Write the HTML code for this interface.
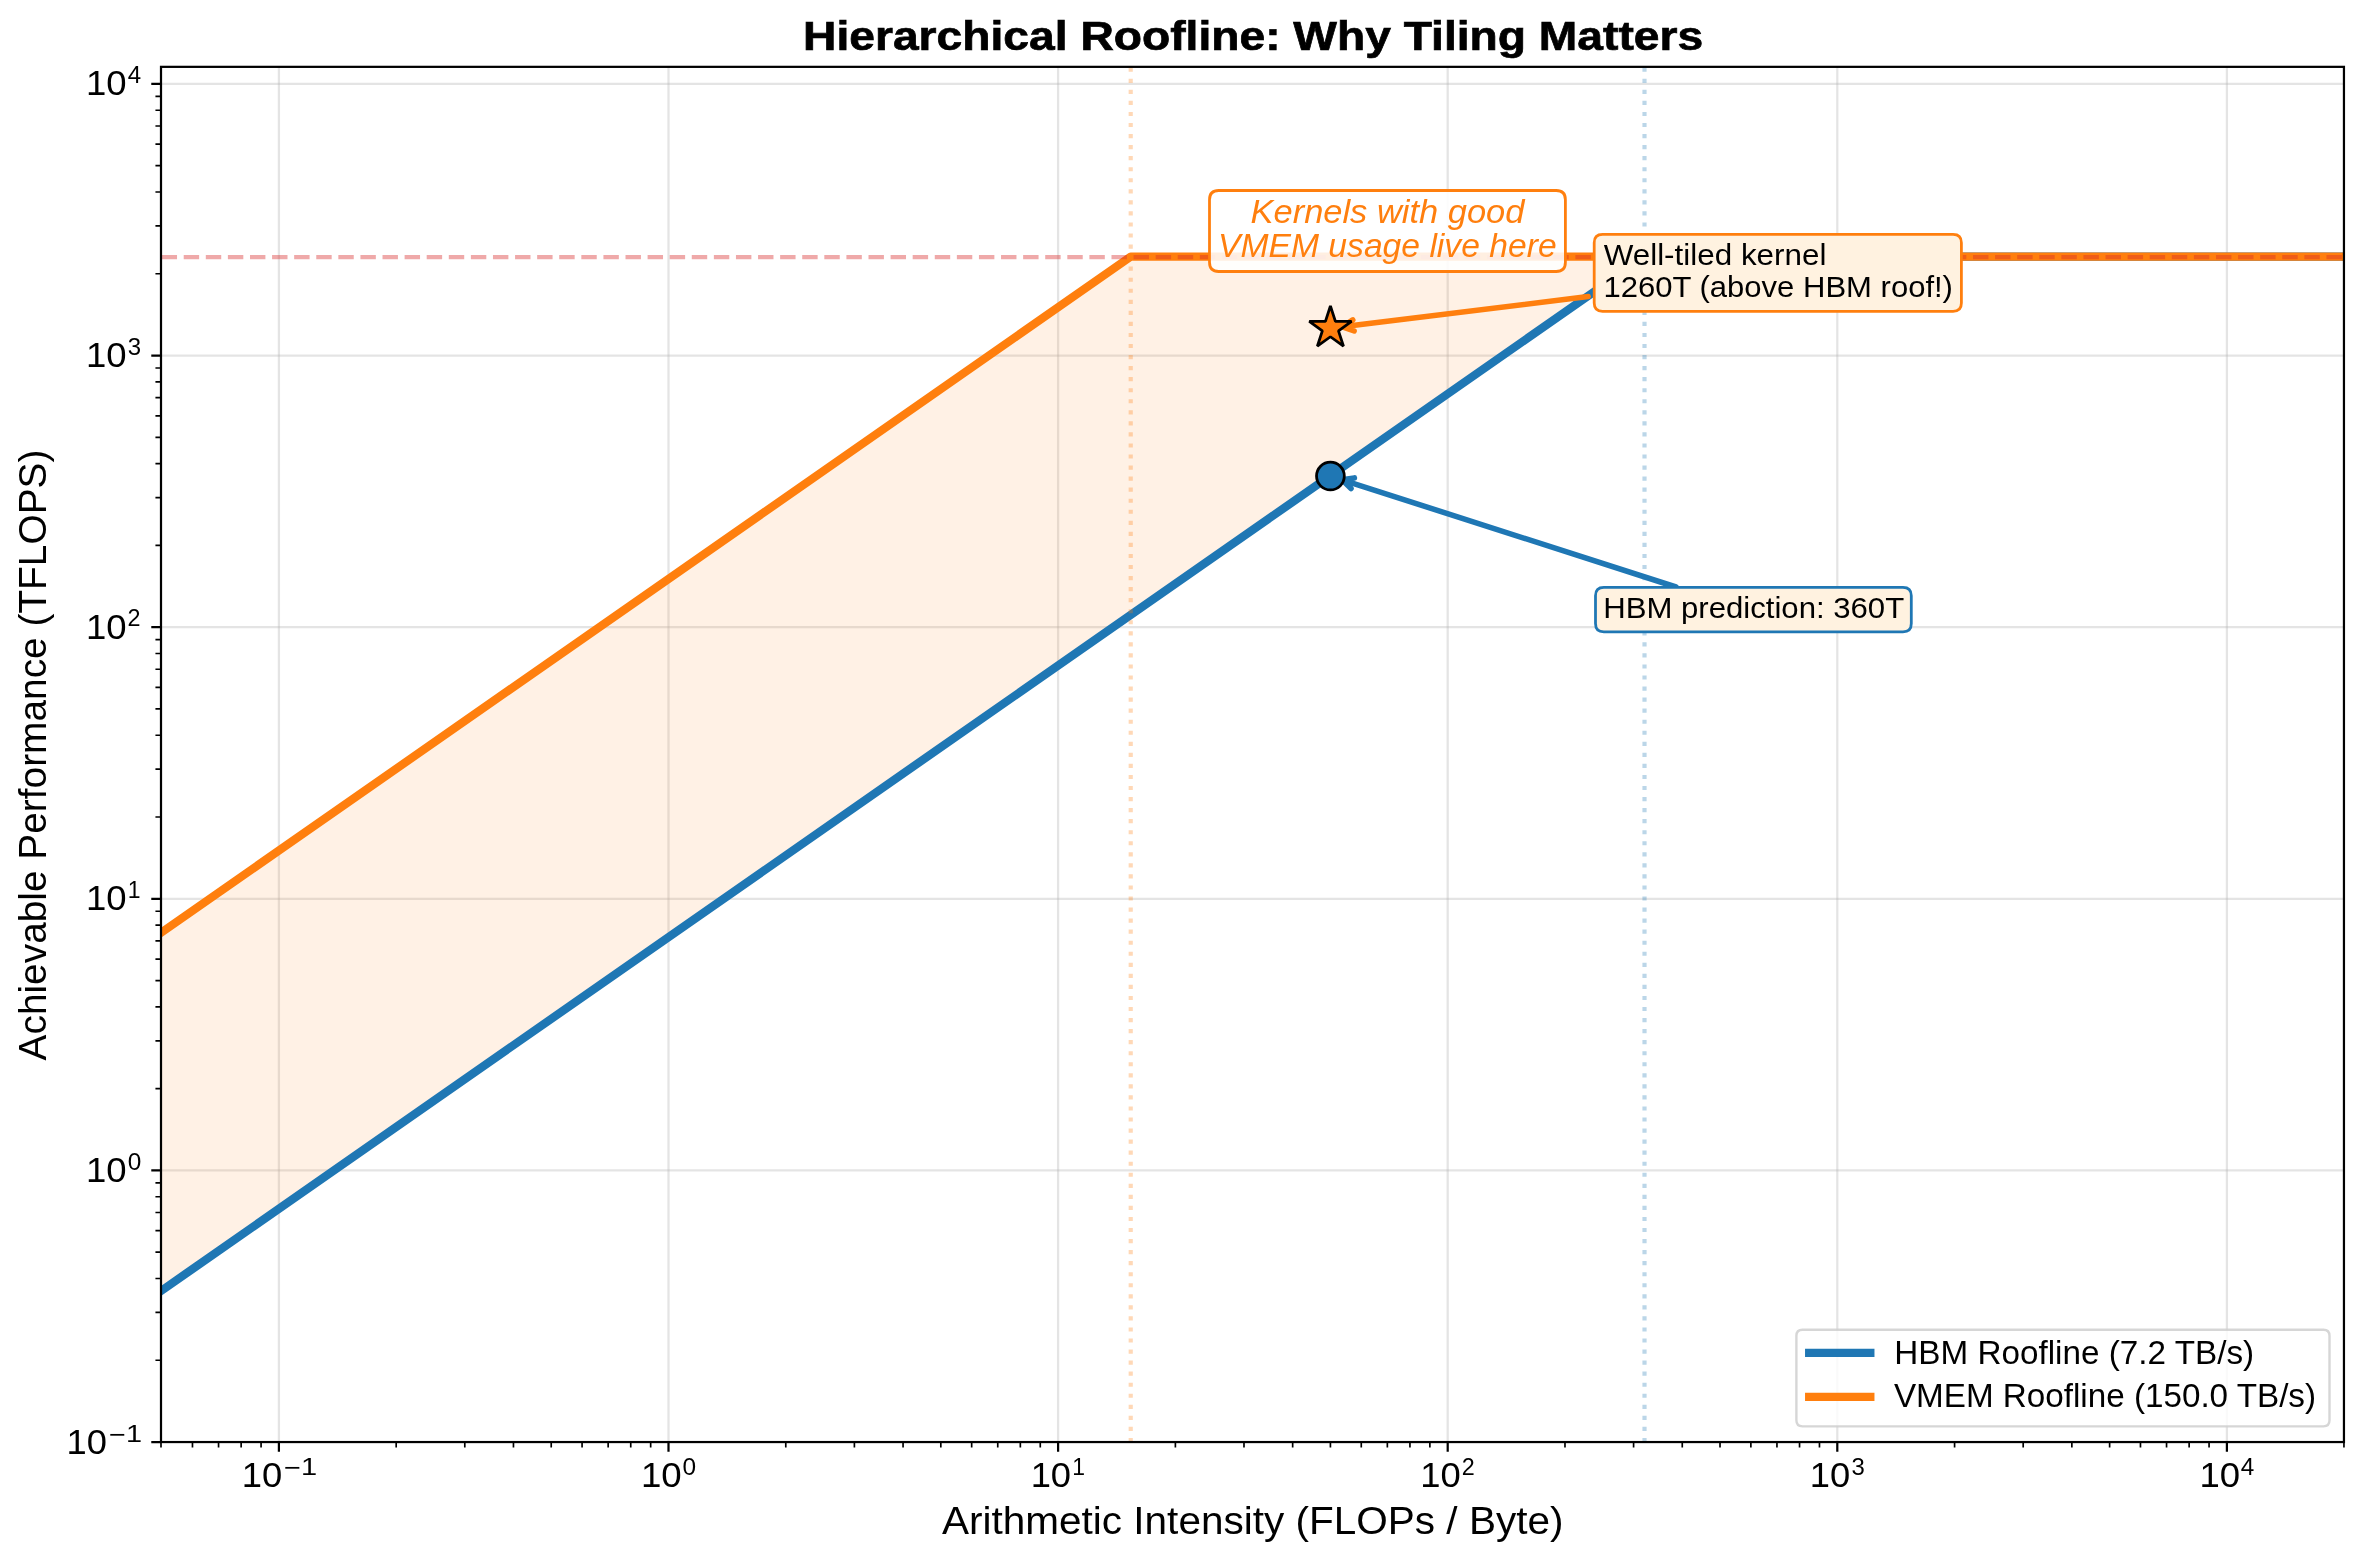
<!DOCTYPE html><html><head><meta charset="utf-8"><style>html,body{margin:0;padding:0;background:#fff;overflow:hidden}svg{display:block;will-change:transform}text{font-family:"Liberation Sans",sans-serif}</style></head><body><svg width="2363" height="1561" viewBox="0 0 2363 1561"><rect width="100%" height="100%" fill="#fff"/>
<defs><clipPath id="ax"><rect x="161.62" y="66.85" width="2182.56" height="1375.20"/></clipPath></defs>
<g clip-path="url(#ax)">
<line x1="278.90" y1="66.85" x2="278.90" y2="1442.05" stroke="#b0b0b0" stroke-opacity="0.34" stroke-width="2.22"/>
<line x1="161.62" y1="1442.05" x2="2344.18" y2="1442.05" stroke="#b0b0b0" stroke-opacity="0.34" stroke-width="2.22"/>
<line x1="668.50" y1="66.85" x2="668.50" y2="1442.05" stroke="#b0b0b0" stroke-opacity="0.34" stroke-width="2.22"/>
<line x1="161.62" y1="1170.42" x2="2344.18" y2="1170.42" stroke="#b0b0b0" stroke-opacity="0.34" stroke-width="2.22"/>
<line x1="1058.10" y1="66.85" x2="1058.10" y2="1442.05" stroke="#b0b0b0" stroke-opacity="0.34" stroke-width="2.22"/>
<line x1="161.62" y1="898.79" x2="2344.18" y2="898.79" stroke="#b0b0b0" stroke-opacity="0.34" stroke-width="2.22"/>
<line x1="1447.70" y1="66.85" x2="1447.70" y2="1442.05" stroke="#b0b0b0" stroke-opacity="0.34" stroke-width="2.22"/>
<line x1="161.62" y1="627.16" x2="2344.18" y2="627.16" stroke="#b0b0b0" stroke-opacity="0.34" stroke-width="2.22"/>
<line x1="1837.30" y1="66.85" x2="1837.30" y2="1442.05" stroke="#b0b0b0" stroke-opacity="0.34" stroke-width="2.22"/>
<line x1="161.62" y1="355.53" x2="2344.18" y2="355.53" stroke="#b0b0b0" stroke-opacity="0.34" stroke-width="2.22"/>
<line x1="2226.90" y1="66.85" x2="2226.90" y2="1442.05" stroke="#b0b0b0" stroke-opacity="0.34" stroke-width="2.22"/>
<line x1="161.62" y1="83.90" x2="2344.18" y2="83.90" stroke="#b0b0b0" stroke-opacity="0.34" stroke-width="2.22"/>
<g transform="translate(0,-0.4)">
<path d="M161.62,932.73 L1130.72,257.07 L1644.51,257.07 L161.62,1290.94 Z" fill="#ff7f0e" fill-opacity="0.11"/>
<polyline points="131.62,1311.86 1644.51,257.07 2374.18,257.07" fill="none" stroke="#1f77b4" stroke-width="8.33" stroke-linejoin="round"/>
<polyline points="131.62,953.64 1130.72,257.07 2374.18,257.07" fill="none" stroke="#ff7f0e" stroke-width="8.33" stroke-linejoin="round"/>
</g>
<line x1="161.62" y1="257.07" x2="2344.18" y2="257.07" stroke="#d62728" stroke-opacity="0.4" stroke-width="4.17" stroke-dasharray="15.42 6.67"/>
<line x1="1130.72" y1="1442.05" x2="1130.72" y2="66.85" stroke="#ff7f0e" stroke-opacity="0.3" stroke-width="4.17" stroke-dasharray="4.17 6.88"/>
<line x1="1644.51" y1="1442.05" x2="1644.51" y2="66.85" stroke="#1f77b4" stroke-opacity="0.3" stroke-width="4.17" stroke-dasharray="4.17 6.88"/>
<path d="M1588.20,296.60 L1342.43,326.79 M1354.12,330.96 L1342.43,326.79 L1352.77,319.92" fill="none" stroke="#ff7f0e" stroke-width="5.56" stroke-linecap="round" stroke-linejoin="round"/>
<path d="M1676.00,587.00 L1342.13,479.81 M1351.00,488.50 L1342.13,479.81 L1354.40,477.91" fill="none" stroke="#1f77b4" stroke-width="5.56" stroke-linecap="round" stroke-linejoin="round"/>
<polygon points="1330.42,306.05 1325.43,321.40 1309.29,321.40 1322.35,330.89 1317.36,346.24 1330.42,336.75 1343.48,346.24 1338.49,330.89 1351.55,321.40 1335.41,321.40" fill="#ff7f0e" stroke="#000" stroke-width="2.78" stroke-linejoin="bevel"/>
<circle cx="1330.42" cy="476.05" r="13.89" fill="#1f77b4" stroke="#000" stroke-width="2.78"/>
</g>
<path d="M1218.67,190.50 L1556.23,190.50 Q1565.40,190.50 1565.40,199.67 L1565.40,262.33 Q1565.40,271.50 1556.23,271.50 L1218.67,271.50 Q1209.50,271.50 1209.50,262.33 L1209.50,199.67 Q1209.50,190.50 1218.67,190.50 Z" fill="#ffffff" fill-opacity="0.88" stroke="#ff7f0e" stroke-width="2.78"/>
<text id="k1" transform="translate(1250.52,222.70) scale(1.06391,1)" font-size="32.40" font-style="italic" fill="#ff7f0e">Kernels with good</text>
<text id="k2" transform="translate(1218.00,256.80) scale(1.03918,1)" font-size="32.40" font-style="italic" fill="#ff7f0e">VMEM usage live here</text>
<path d="M1602.53,234.35 L1953.07,234.35 Q1961.40,234.35 1961.40,242.68 L1961.40,302.97 Q1961.40,311.30 1953.07,311.30 L1602.53,311.30 Q1594.20,311.30 1594.20,302.97 L1594.20,242.68 Q1594.20,234.35 1602.53,234.35 Z" fill="#fff2e0" stroke="#ff7f0e" stroke-width="2.78"/>
<text id="w1" transform="translate(1603.65,264.50) scale(1.06820,1)" font-size="29.40" fill="#000">Well-tiled kernel</text>
<text id="w2" transform="translate(1603.50,296.50) scale(1.05542,1)" font-size="29.40" fill="#000">1260T (above HBM roof!)</text>
<path d="M1603.83,587.30 L1902.97,587.30 Q1911.30,587.30 1911.30,595.63 L1911.30,623.57 Q1911.30,631.90 1902.97,631.90 L1603.83,631.90 Q1595.50,631.90 1595.50,623.57 L1595.50,595.63 Q1595.50,587.30 1603.83,587.30 Z" fill="#fff2e0" stroke="#1f77b4" stroke-width="2.78"/>
<text id="h1" transform="translate(1603.20,617.60) scale(1.05905,1)" font-size="29.40" fill="#000">HBM prediction: 360T</text>
<rect x="161.00" y="66.85" width="2182.95" height="1375.20" fill="none" stroke="#000" stroke-width="2.22" stroke-linejoin="miter"/>
<path d="M278.90,1442.05 v9.72 M161.00,1442.05 h-9.72 M668.50,1442.05 v9.72 M161.00,1170.42 h-9.72 M1058.10,1442.05 v9.72 M161.00,898.79 h-9.72 M1447.70,1442.05 v9.72 M161.00,627.16 h-9.72 M1837.30,1442.05 v9.72 M161.00,355.53 h-9.72 M2226.90,1442.05 v9.72 M161.00,83.90 h-9.72" stroke="#000" stroke-width="2.22"/>
<path d="M161.00,1442.05 v5.56 M192.47,1442.05 v5.56 M218.55,1442.05 v5.56 M241.14,1442.05 v5.56 M261.07,1442.05 v5.56 M396.18,1442.05 v5.56 M161.00,1360.28 h-5.56 M464.79,1442.05 v5.56 M161.00,1312.45 h-5.56 M513.46,1442.05 v5.56 M161.00,1278.51 h-5.56 M551.22,1442.05 v5.56 M161.00,1252.19 h-5.56 M582.07,1442.05 v5.56 M161.00,1230.68 h-5.56 M608.15,1442.05 v5.56 M161.00,1212.50 h-5.56 M630.74,1442.05 v5.56 M161.00,1196.74 h-5.56 M650.67,1442.05 v5.56 M161.00,1182.85 h-5.56 M785.78,1442.05 v5.56 M161.00,1088.65 h-5.56 M854.39,1442.05 v5.56 M161.00,1040.82 h-5.56 M903.06,1442.05 v5.56 M161.00,1006.88 h-5.56 M940.82,1442.05 v5.56 M161.00,980.56 h-5.56 M971.67,1442.05 v5.56 M161.00,959.05 h-5.56 M997.75,1442.05 v5.56 M161.00,940.87 h-5.56 M1020.34,1442.05 v5.56 M161.00,925.11 h-5.56 M1040.27,1442.05 v5.56 M161.00,911.22 h-5.56 M1175.38,1442.05 v5.56 M161.00,817.02 h-5.56 M1243.99,1442.05 v5.56 M161.00,769.19 h-5.56 M1292.66,1442.05 v5.56 M161.00,735.25 h-5.56 M1330.42,1442.05 v5.56 M161.00,708.93 h-5.56 M1361.27,1442.05 v5.56 M161.00,687.42 h-5.56 M1387.35,1442.05 v5.56 M161.00,669.24 h-5.56 M1409.94,1442.05 v5.56 M161.00,653.48 h-5.56 M1429.87,1442.05 v5.56 M161.00,639.59 h-5.56 M1564.98,1442.05 v5.56 M161.00,545.39 h-5.56 M1633.59,1442.05 v5.56 M161.00,497.56 h-5.56 M1682.26,1442.05 v5.56 M161.00,463.62 h-5.56 M1720.02,1442.05 v5.56 M161.00,437.30 h-5.56 M1750.87,1442.05 v5.56 M161.00,415.79 h-5.56 M1776.95,1442.05 v5.56 M161.00,397.61 h-5.56 M1799.54,1442.05 v5.56 M161.00,381.85 h-5.56 M1819.47,1442.05 v5.56 M161.00,367.96 h-5.56 M1954.58,1442.05 v5.56 M161.00,273.76 h-5.56 M2023.19,1442.05 v5.56 M161.00,225.93 h-5.56 M2071.86,1442.05 v5.56 M161.00,191.99 h-5.56 M2109.62,1442.05 v5.56 M161.00,165.67 h-5.56 M2140.47,1442.05 v5.56 M161.00,144.16 h-5.56 M2166.55,1442.05 v5.56 M161.00,125.98 h-5.56 M2189.14,1442.05 v5.56 M161.00,110.22 h-5.56 M2209.07,1442.05 v5.56 M161.00,96.33 h-5.56 M2343.95,1442.05 v5.56" stroke="#000" stroke-width="1.67"/>
<text id="xt-1m" transform="translate(241.68,1487.00) scale(1.02935,1)" font-size="35.32" fill="#000">10</text>
<text id="xt-1s" transform="translate(283.97,1475.10) scale(1.17334,1)" font-size="24.72" fill="#000"><tspan dy="0.9">−</tspan><tspan dy="-0.9">1</tspan></text>
<text id="yt-1m" transform="translate(66.58,1454.00) scale(1.02860,1)" font-size="35.32" fill="#000">10</text>
<text id="yt-1s" transform="translate(109.10,1441.60) scale(1.16812,1)" font-size="24.72" fill="#000"><tspan dy="0.9">−</tspan><tspan dy="-0.9">1</tspan></text>
<text id="xt0m" transform="translate(640.88,1487.00) scale(1.03831,1)" font-size="35.32" fill="#000">10</text>
<text id="xt0s" transform="translate(682.62,1475.10) scale(0.98743,1)" font-size="24.72" fill="#000">0</text>
<text id="yt0m" transform="translate(86.04,1181.92) scale(1.03499,1)" font-size="35.32" fill="#000">10</text>
<text id="yt0s" transform="translate(127.74,1169.52) scale(0.98692,1)" font-size="24.72" fill="#000">0</text>
<text id="xt1m" transform="translate(1030.65,1487.00) scale(1.02823,1)" font-size="35.32" fill="#000">10</text>
<text id="xt1s" transform="translate(1072.35,1475.10) scale(0.92887,1)" font-size="24.72" fill="#000">1</text>
<text id="yt1m" transform="translate(86.04,910.29) scale(1.03499,1)" font-size="35.32" fill="#000">10</text>
<text id="yt1s" transform="translate(127.75,897.89) scale(0.92931,1)" font-size="24.72" fill="#000">1</text>
<text id="xt2m" transform="translate(1420.17,1487.00) scale(1.03064,1)" font-size="35.32" fill="#000">10</text>
<text id="xt2s" transform="translate(1461.78,1475.10) scale(0.94445,1)" font-size="24.72" fill="#000">2</text>
<text id="yt2m" transform="translate(86.04,638.66) scale(1.03499,1)" font-size="35.32" fill="#000">10</text>
<text id="yt2s" transform="translate(127.53,626.26) scale(0.94557,1)" font-size="24.72" fill="#000">2</text>
<text id="xt3m" transform="translate(1809.87,1487.00) scale(1.02857,1)" font-size="35.32" fill="#000">10</text>
<text id="xt3s" transform="translate(1851.42,1475.10) scale(0.96788,1)" font-size="24.72" fill="#000">3</text>
<text id="yt3m" transform="translate(86.04,367.03) scale(1.03499,1)" font-size="35.32" fill="#000">10</text>
<text id="yt3s" transform="translate(127.67,354.63) scale(0.97085,1)" font-size="24.72" fill="#000">3</text>
<text id="xt4m" transform="translate(2199.40,1487.00) scale(1.03488,1)" font-size="35.32" fill="#000">10</text>
<text id="xt4s" transform="translate(2240.86,1475.10) scale(0.98353,1)" font-size="24.72" fill="#000">4</text>
<text id="yt4m" transform="translate(86.04,95.00) scale(1.03499,1)" font-size="35.32" fill="#000">10</text>
<text id="yt4s" transform="translate(127.85,82.60) scale(0.97339,1)" font-size="24.72" fill="#000">4</text>
<text id="title" transform="translate(803.07,49.65) scale(1.12137,1)" font-size="41.20" font-weight="bold" fill="#000" stroke="#000" stroke-width="0.7">Hierarchical Roofline: Why Tiling Matters</text>
<text id="xlabel" transform="translate(941.92,1533.50) scale(1.05933,1)" font-size="38.26" fill="#000">Arithmetic Intensity (FLOPs / Byte)</text>
<text id="ylabel" transform="translate(45.60,1060.43) rotate(-90) scale(1.01517,1)" font-size="38.26" fill="#000">Achievable Performance (TFLOPS)</text>
<path d="M1802.51,1329.70 L2323.39,1329.70 Q2329.50,1329.70 2329.50,1335.81 L2329.50,1420.29 Q2329.50,1426.40 2323.39,1426.40 L1802.51,1426.40 Q1796.40,1426.40 1796.40,1420.29 L1796.40,1335.81 Q1796.40,1329.70 1802.51,1329.70 Z" fill="#ffffff" fill-opacity="0.8" stroke="#cccccc" stroke-opacity="0.8" stroke-width="2.4"/>
<line x1="1809.2" y1="1352.95" x2="1870.3" y2="1352.95" stroke="#1f77b4" stroke-width="8.33" stroke-linecap="square"/>
<line x1="1809.2" y1="1396.9" x2="1870.3" y2="1396.9" stroke="#ff7f0e" stroke-width="8.33" stroke-linecap="square"/>
<text id="l1" transform="translate(1894.35,1363.60) scale(1.02647,1)" font-size="32.40" fill="#000">HBM Roofline (7.2 TB/s)</text>
<text id="l2" transform="translate(1893.97,1407.40) scale(1.02573,1)" font-size="32.40" fill="#000">VMEM Roofline (150.0 TB/s)</text></svg></body></html>
